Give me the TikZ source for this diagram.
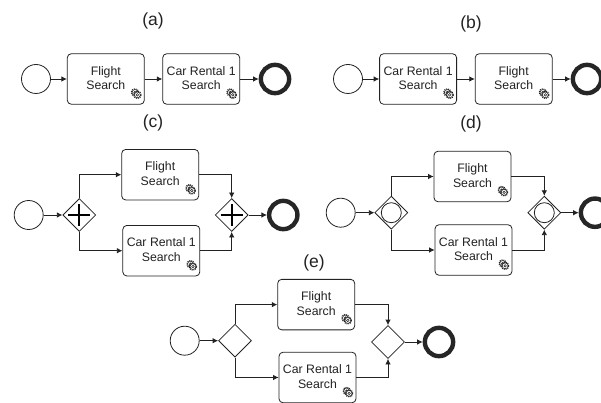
\documentclass[tikz,border=0pt]{standalone}
\usepackage{fontspec}
\setmainfont{Liberation Sans}
\usetikzlibrary{shapes.geometric,arrows.meta}
\definecolor{ink}{HTML}{222222}
\tikzset{
  x=1pt,y=-1pt,
  every node/.style={text=ink},
  flow/.style={draw=ink,line width=0.8pt,-{Latex[length=5.5pt,width=5.5pt]}},
  startev/.style={circle,draw=ink,line width=0.8pt,fill=white,minimum size=29pt,inner sep=0pt},
  endev/.style={circle,draw=black!85,line width=4.4pt,fill=white,minimum size=28.3pt,inner sep=0pt},
  taskbox/.style={rectangle,rounded corners=4pt,draw=ink,line width=0.8pt,fill=white,
    minimum width=77pt,minimum height=50.5pt,inner sep=0pt,align=center,text depth=2.2pt,
    font=\fontsize{12.3pt}{14.6pt}\selectfont},
  gate/.style={diamond,draw=ink,line width=0.8pt,fill=white,minimum width=33pt,minimum height=33pt,inner sep=0pt},
  caption/.style={font=\fontsize{17.5pt}{20pt}\selectfont,inner sep=0pt},
  gear/.pic={
    \foreach \dx/\dy in {-1.2/-1.2,1.2/1.2}{
      \draw[ink,line width=1.2pt,dash pattern=on 1pt off 0.9pt] (\dx,\dy) circle (3.6pt);
      \draw[ink,line width=0.5pt,fill=white] (\dx,\dy) circle (2.9pt);
      \draw[ink,line width=0.5pt] (\dx,\dy) circle (1.3pt);
    }
  },
  plusmark/.pic={
    \draw[black,line width=2pt] (-11,0) -- (11,0) (0,-11) -- (0,11);
  },
  ringmark/.pic={
    \draw[ink,line width=0.8pt] (0,0) circle (10pt);
  }
}
\newcommand{\taskat}[4]{%
  \node[taskbox] (#1) at (#2,#3) {#4};
  \pic at ([shift={(-8.5,-11)}]#1.south east) {gear};
}
\begin{document}
\begin{tikzpicture}
\path[use as bounding box,clip] (0,0) rectangle (601,403);
% (a)
\node[caption] (capa) at (153,21) {(a)};
\node[startev] (as) at (36,79) {};
\taskat{aone}{105.8}{79}{Flight\\Search}
\taskat{atwo}{201.2}{79}{Car Rental 1\\Search}
\node[endev] (ae) at (275,79) {};
\draw[flow] (as) -- (aone);
\draw[flow] (aone) -- (atwo);
\draw[flow] (atwo) -- (ae);
% (b)
\node[caption] (capb) at (471,24) {(b)};
\node[startev] (bs) at (348,79) {};
\taskat{bone}{418.1}{79}{Car Rental 1\\Search}
\taskat{btwo}{513.7}{79}{Flight\\Search}
\node[endev] (be) at (587,79) {};
\draw[flow] (bs) -- (bone);
\draw[flow] (bone) -- (btwo);
\draw[flow] (btwo) -- (be);
% (c)
\node[caption] (capc) at (153,123) {(c)};
\node[startev] (cs) at (28.7,215) {};
\node[gate] (cg) at (79.3,215) {};
\pic at (cg) {plusmark};
\taskat{cone}{160.2}{174.7}{Flight\\Search}
\taskat{ctwo}{161.3}{250.7}{Car Rental 1\\Search}
\node[gate] (ch) at (231.7,215) {};
\pic at (ch) {plusmark};
\node[endev] (ce) at (283.3,215) {};
\draw[flow] (cs) -- (cg);
\draw[flow] (cg.north) |- (cone.west);
\draw[flow] (cg.south) |- (ctwo.west);
\draw[flow] (cone.east) -| (ch.north);
\draw[flow] (ctwo.east) -| (ch.south);
\draw[flow] (ch) -- (ce);
% (d)
\node[caption] (capd) at (471,124) {(d)};
\node[startev] (ds) at (340.7,212.7) {};
\node[gate] (dg) at (391.3,212.7) {};
\pic at (dg) {ringmark};
\taskat{done}{472.5}{176.5}{Flight\\Search}
\taskat{dtwo}{473.5}{250}{Car Rental 1\\Search}
\node[gate] (dh) at (544.3,212.7) {};
\pic at (dh) {ringmark};
\node[endev] (de) at (595,212.7) {};
\draw[flow] (ds) -- (dg);
\draw[flow] (dg.north) |- (done.west);
\draw[flow] (dg.south) |- (dtwo.west);
\draw[flow] (done.east) -| (dh.north);
\draw[flow] (dtwo.east) -| (dh.south);
\draw[flow] (dh) -- (de);
% (e)
\node[caption] (cape) at (314,263) {(e)};
\node[startev] (es) at (184.7,340.7) {};
\node[gate] (eg) at (235,340.7) {};
\taskat{eone}{316.2}{304.6}{Flight\\Search}
\taskat{etwo}{317.5}{377.5}{Car Rental 1\\Search}
\node[gate] (eh) at (388,342) {};
\node[endev] (ee) at (439,342) {};
\draw[flow] (es) -- (eg);
\draw[flow] (eg.north) |- (eone.west);
\draw[flow] (eg.south) |- (etwo.west);
\draw[flow] (eone.east) -| (eh.north);
\draw[flow] (etwo.east) -| (eh.south);
\draw[flow] (eh) -- (ee);
\end{tikzpicture}
\end{document}
